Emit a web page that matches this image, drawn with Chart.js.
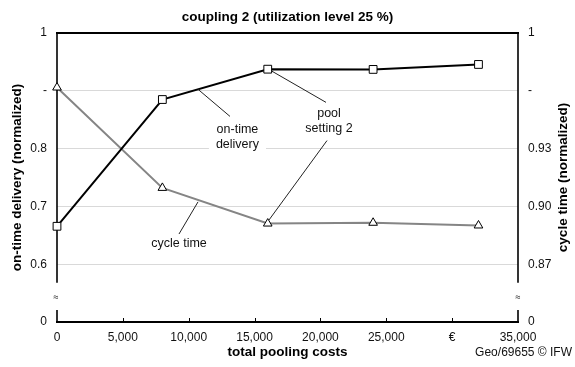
<!DOCTYPE html>
<html>
<head>
<meta charset="utf-8">
<script src="https://cdn.jsdelivr.net/npm/chart.js@4/dist/chart.umd.min.js"></script>
<style>
html,body{margin:0;padding:0;background:#fff;}
#c{display:block;}
</style>
</head>
<body>
<canvas id="c" width="575" height="367" style="width:575px;height:367px"></canvas>
<script>
// ---- data ----
const costs = [0, 8000, 16000, 24000, 32000];
const onTimeDelivery = [0.6656, 0.8849, 0.9374, 0.9370, 0.9456];
const cycleTime = [0.9617, 0.9096, 0.8911, 0.8915, 0.8901];

const xTickValues = [0, 5000, 10000, 15000, 20000, 25000, 30000, 35000];
const xTickLabels = ['0', '5,000', '10,000', '15,000', '20,000', '25,000', '€', '35,000'];
const leftTickValues = [0.5, 0.6, 0.7, 0.8, 0.9, 1.0];
const leftTickLabels = ['0', '0.6', '0.7', '0.8', '-', '1'];
const rightTickValues = [0.84, 0.87, 0.90, 0.93, 0.96, 0.99];
const rightTickLabels = ['0', '0.87', '0.90', '0.93', '-', '1'];

const titleText = 'coupling 2 (utilization level 25 %)';
const xTitle = 'total pooling costs';
const leftTitle = 'on-time delivery (normalized)';
const rightTitle = 'cycle time (normalized)';
const sourceText = 'Geo/69655 © IFW';

// annotation labels (in x / left-axis units)
const annotationLabels = [
  { text: ['on-time', 'delivery'], x: 13700, y: 0.8200, box: true },
  { text: ['pool', 'setting 2'], x: 20650, y: 0.8478, box: false },
  { text: ['cycle time'], x: 9262, y: 0.6350, box: false }
];
const leaderLines = [
  [10705, 0.9026, 13134, 0.8557],
  [16323, 0.9339, 20424, 0.8800],
  [20499, 0.8139, 16096, 0.6765],
  [10705, 0.7078, 9262, 0.6522]
];
const breakLeft = [0.5678, 0.5417, 0.5209]; // gap top, symbol, gap bottom

const FONT = "'Liberation Sans', Arial, Helvetica, sans-serif";
Chart.defaults.font.family = FONT;
Chart.defaults.font.size = 12;
Chart.defaults.color = '#111';
const TITLE_FONT = { size: 13.5, weight: 'bold' };

function line(ctx, x1, y1, x2, y2) {
  ctx.beginPath(); ctx.moveTo(x1, y1); ctx.lineTo(x2, y2); ctx.stroke();
}

const customPlugin = {
  id: 'custom',
  beforeDatasetsDraw(chart) {
    const { ctx, chartArea: a, scales } = chart;
    const x = scales.x, y = scales.y;
    ctx.save();
    ctx.strokeStyle = '#000';
    ctx.lineWidth = 2;
    const yt = Math.round(y.getPixelForValue(1.0));
    line(ctx, a.left - 1, yt, a.right + 1, yt);
    const yb = Math.round(y.getPixelForValue(0.5));
    line(ctx, a.left - 1, yb, a.right + 1, yb);
    ctx.lineWidth = 1.6;
    const gTop = y.getPixelForValue(breakLeft[0]);
    const gBot = y.getPixelForValue(breakLeft[2]);
    [a.left, a.right].forEach(px => {
      line(ctx, px, yt, px, gTop);
      line(ctx, px, gBot, px, yb);
    });
    ctx.lineWidth = 1;
    xTickValues.forEach(v => {
      if (v === 0 || v === 35000) return;
      const px = Math.round(x.getPixelForValue(v)) + 0.5;
      line(ctx, px, yb - 4, px, yb);
    });
    ctx.fillStyle = '#000';
    ctx.font = '9px ' + FONT;
    ctx.textAlign = 'center';
    ctx.textBaseline = 'middle';
    const ys = y.getPixelForValue(breakLeft[1]);
    ctx.fillText('≈', a.left - 1, ys);
    ctx.fillText('≈', a.right, ys);
    ctx.font = '12.5px ' + FONT;
    annotationLabels.forEach(l => {
      if (!l.box) return;
      const cx = x.getPixelForValue(l.x), cy = y.getPixelForValue(l.y);
      const w = Math.max(...l.text.map(t => ctx.measureText(t).width)) + 14;
      const h = l.text.length * 15 + 2;
      ctx.fillStyle = '#fff';
      ctx.fillRect(cx - w / 2, cy - h / 2, w, h);
    });
    ctx.restore();
  },
  afterDatasetsDraw(chart) {
    const { ctx, chartArea: a, scales } = chart;
    const x = scales.x, y = scales.y;
    ctx.save();
    ctx.strokeStyle = '#222';
    ctx.lineWidth = 1;
    leaderLines.forEach(l => {
      line(ctx, x.getPixelForValue(l[0]), y.getPixelForValue(l[1]),
               x.getPixelForValue(l[2]), y.getPixelForValue(l[3]));
    });
    ctx.fillStyle = '#111';
    ctx.font = '12.5px ' + FONT;
    ctx.textAlign = 'center';
    ctx.textBaseline = 'middle';
    annotationLabels.forEach(l => {
      const cx = x.getPixelForValue(l.x), cy = y.getPixelForValue(l.y);
      const n = l.text.length;
      l.text.forEach((t, i) => ctx.fillText(t, cx, cy + (i - (n - 1) / 2) * 15));
    });
    ctx.save();
    ctx.translate(563, (a.top + a.bottom) / 2);
    ctx.rotate(-Math.PI / 2);
    ctx.font = 'bold 13.5px ' + FONT;
    ctx.fillStyle = '#000';
    ctx.fillText(rightTitle, 0, 0);
    ctx.restore();
    ctx.font = '12px ' + FONT;
    ctx.textAlign = 'right';
    ctx.fillStyle = '#111';
    ctx.fillText(sourceText, 572, 353);
    ctx.restore();
  }
};

new Chart(document.getElementById('c'), {
  type: 'line',
  data: {
    datasets: [
      {
        label: 'on-time delivery',
        data: costs.map((c, i) => ({ x: c, y: onTimeDelivery[i] })),
        yAxisID: 'y',
        borderColor: '#000',
        borderWidth: 2,
        pointStyle: 'rect',
        pointRadius: 5.5,
        pointBackgroundColor: '#fff',
        pointBorderColor: '#000',
        pointBorderWidth: 1,
        tension: 0,
        clip: false
      },
      {
        label: 'cycle time',
        data: costs.map((c, i) => ({ x: c, y: cycleTime[i] })),
        yAxisID: 'y2',
        borderColor: '#858585',
        borderWidth: 2,
        pointStyle: 'triangle',
        pointRadius: 5,
        pointBackgroundColor: '#fff',
        pointBorderColor: '#000',
        pointBorderWidth: 1,
        tension: 0,
        clip: false
      }
    ]
  },
  options: {
    responsive: false,
    animation: false,
    devicePixelRatio: 1,
    layout: { padding: 0 },
    plugins: {
      legend: { display: false },
      tooltip: { enabled: false },
      title: {
        display: true,
        text: titleText,
        color: '#000',
        font: TITLE_FONT,
        padding: { top: 9, bottom: 7.8 }
      }
    },
    scales: {
      x: {
        type: 'linear',
        min: 0, max: 35000,
        afterBuildTicks: s => { s.ticks = xTickValues.map(v => ({ value: v })); },
        afterFit: s => { s.height = 45; },
        ticks: { callback: (v, i) => xTickLabels[i], padding: 8, maxRotation: 0, autoSkip: false, color: '#111' },
        grid: { display: false, drawTicks: false },
        border: { display: false },
        title: { display: true, text: xTitle, color: '#000', font: TITLE_FONT, padding: { top: 0, bottom: 7 } }
      },
      y: {
        position: 'left',
        min: 0.5, max: 1.0,
        afterBuildTicks: s => { s.ticks = leftTickValues.map(v => ({ value: v })); },
        afterFit: s => { s.width = 57; },
        ticks: { callback: (v, i) => leftTickLabels[i], padding: 10, autoSkip: false, color: '#111' },
        grid: {
          drawTicks: false,
          color: c => (c.tick && (c.tick.value === 0.5 || c.tick.value === 1.0)) ? 'rgba(0,0,0,0)' : '#d9d9d9',
          lineWidth: 1
        },
        border: { display: false },
        title: { display: true, text: leftTitle, color: '#000', font: TITLE_FONT, padding: { top: 9, bottom: 0 } }
      },
      y2: {
        position: 'right',
        min: 0.84, max: 0.99,
        afterBuildTicks: s => { s.ticks = rightTickValues.map(v => ({ value: v })); },
        afterFit: s => { s.width = 57; },
        ticks: { callback: (v, i) => rightTickLabels[i], padding: 10, autoSkip: false, color: '#111' },
        grid: { display: false, drawTicks: false },
        border: { display: false }
      }
    }
  },
  plugins: [customPlugin]
});
</script>
</body>
</html>
